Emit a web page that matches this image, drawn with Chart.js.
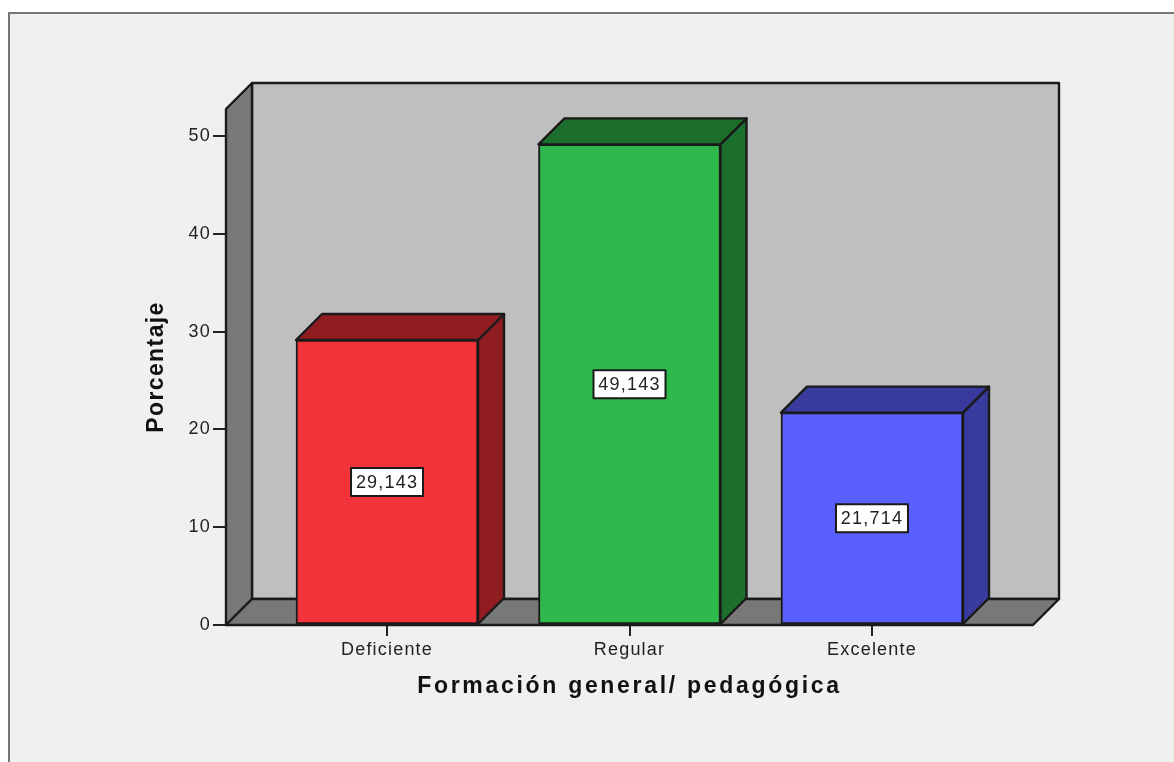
<!DOCTYPE html>
<html>
<head>
<meta charset="utf-8">
<title>Formación general/ pedagógica</title>
<script src="https://cdn.jsdelivr.net/npm/chart.js@4"></script>
<style>
    html, body { margin: 0; padding: 0; background: #fff; overflow: hidden; }
    #frame { position: absolute; left: 8px; top: 12px; right: 0; bottom: 0; background: #f0f0f0; border-top: 2px solid #777; border-left: 2px solid #777; }
    #wrap { position: absolute; left: 0; top: 0; width: 1174px; height: 762px; }
</style>
</head>
<body>
<div id="frame"></div>
<div id="wrap"><canvas id="chart" width="1174" height="762"></canvas></div>
<script>
// datos
const categories = ["Deficiente", "Regular", "Excelente"];
const values = [29.143, 49.143, 21.714];
const valueLabels = ["29,143", "49,143", "21,714"];
const yTicks = [0, 10, 20, 30, 40, 50];
const frontColors = ["#f23339", "#2fb94c", "#5a60ff"];
const sideColors = ["#8f1d20", "#1c6e2d", "#383b9d"];

const DEPTH = 26;
const LINE = "#1a1a1a";

function poly(ctx, pts, fill) {
    ctx.beginPath();
    pts.forEach((p, i) => i ? ctx.lineTo(p[0], p[1]) : ctx.moveTo(p[0], p[1]));
    ctx.closePath();
    ctx.fillStyle = fill;
    ctx.fill();
    ctx.lineWidth = 2.4;
    ctx.lineJoin = "round";
    ctx.strokeStyle = LINE;
    ctx.stroke();
}

// titulos con espaciado propio
function spaceTitle(scale, spacing) {
    if (scale._spaced) return;
    scale._spaced = true;
    const orig = scale.drawTitle;
    scale.drawTitle = function () {
        const ctx = this.ctx;
        const old = ctx.letterSpacing;
        ctx.letterSpacing = spacing;
        orig.call(this);
        ctx.letterSpacing = old;
    };
}

const box3d = {
    id: "box3d",
    beforeDraw(chart) {
        spaceTitle(chart.scales.x, "2.7px");
        spaceTitle(chart.scales.y, "1.4px");
        chart.ctx.letterSpacing = "1.2px";
    },
    beforeDatasetsDraw(chart) {
        const ctx = chart.ctx;
        const a = chart.chartArea;
        const d = DEPTH;
        // pared del fondo, pared izquierda y piso
        poly(ctx, [[a.left + d, a.top - d], [a.right + d, a.top - d], [a.right + d, a.bottom - d], [a.left + d, a.bottom - d]], "#bfbfbf");
        poly(ctx, [[a.left, a.top], [a.left + d, a.top - d], [a.left + d, a.bottom - d], [a.left, a.bottom]], "#787878");
        poly(ctx, [[a.left, a.bottom], [a.left + d, a.bottom - d], [a.right + d, a.bottom - d], [a.right, a.bottom]], "#787878");
        // caras lateral y superior de cada barra
        chart.getDatasetMeta(0).data.forEach((bar, i) => {
            const l = bar.x - bar.width / 2;
            const r = bar.x + bar.width / 2;
            poly(ctx, [[r, bar.y], [r + d, bar.y - d], [r + d, bar.base - d], [r, bar.base]], sideColors[i]);
            poly(ctx, [[l, bar.y], [l + d, bar.y - d], [r + d, bar.y - d], [r, bar.y]], sideColors[i]);
        });
    },
    afterDatasetsDraw(chart) {
        const ctx = chart.ctx;
        ctx.save();
        ctx.font = "18px 'Liberation Sans'";
        ctx.textAlign = "center";
        ctx.textBaseline = "middle";
        chart.getDatasetMeta(0).data.forEach((bar, i) => {
            const cy = (bar.y + bar.base) / 2;
            ctx.fillStyle = "#fff";
            ctx.strokeStyle = LINE;
            ctx.lineWidth = 2;
            ctx.fillRect(bar.x - 36, cy - 14, 72, 28);
            ctx.strokeRect(bar.x - 36, cy - 14, 72, 28);
            ctx.fillStyle = "#222";
            ctx.fillText(valueLabels[i], bar.x, cy + 1);
        });
        ctx.restore();
    }
};

new Chart(document.getElementById("chart"), {
    type: "bar",
    data: {
        datasets: [{
            data: values.map((v, i) => ({ x: i + 1, y: v })),
            backgroundColor: frontColors,
            borderColor: LINE,
            borderWidth: 2,
            borderSkipped: false,
            barThickness: 182
        }]
    },
    plugins: [box3d],
    options: {
        responsive: false,
        animation: false,
        layout: { padding: { left: 143, top: 109, right: 141, bottom: 62 } },
        plugins: { legend: { display: false }, tooltip: { enabled: false } },
        scales: {
            x: {
                type: "linear",
                offset: false,
                min: 0.336,
                max: 3.664,
                afterBuildTicks: s => { s.ticks = categories.map((c, i) => ({ value: i + 1 })); },
                afterFit: s => { s.height = 75; },
                grid: { offset: false, drawOnChartArea: false, color: "#222", lineWidth: 2, tickLength: 11 },
                border: { display: false },
                ticks: {
                    color: "#222",
                    padding: 3,
                    maxRotation: 0,
                    font: { family: "'Liberation Sans'", size: 18 },
                    callback: v => categories[v - 1]
                },
                title: {
                    display: true,
                    text: "Formación general/ pedagógica",
                    color: "#111",
                    padding: 0,
                    font: { family: "'Liberation Sans'", size: 23, weight: "bold" }
                }
            },
            y: {
                min: 0,
                max: 52.76,
                afterBuildTicks: s => { s.ticks = yTicks.map(v => ({ value: v })); },
                afterFit: s => { s.width = 83; },
                grid: { drawOnChartArea: false, color: "#222", lineWidth: 2, tickLength: 13 },
                border: { display: false },
                ticks: {
                    color: "#222",
                    padding: 2,
                    font: { family: "'Liberation Sans'", size: 18 }
                },
                title: {
                    display: true,
                    text: "Porcentaje",
                    color: "#111",
                    padding: 0,
                    font: { family: "'Liberation Sans'", size: 23, weight: "bold" }
                }
            }
        }
    }
});
</script>
</body>
</html>
